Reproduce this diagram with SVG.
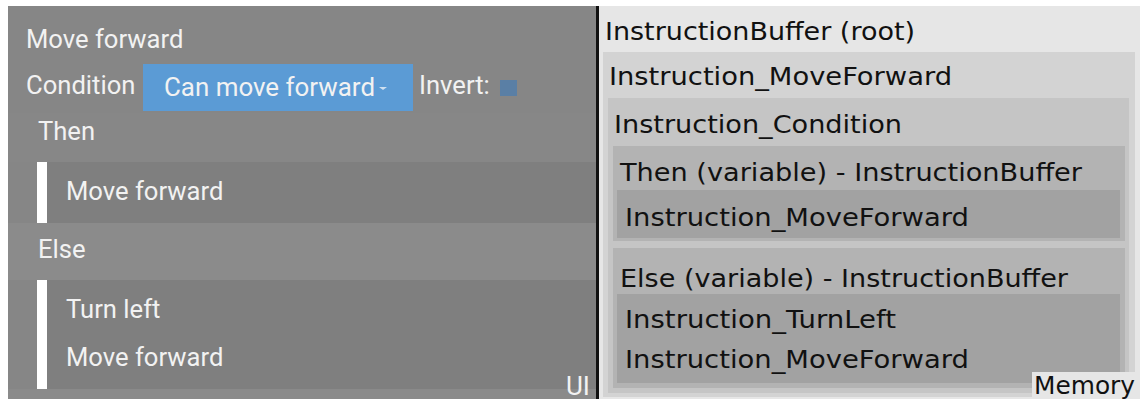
<svg xmlns="http://www.w3.org/2000/svg" width="1140" height="399" viewBox="0 0 1140 399">
<style>
.ui{font-family:Roboto,"Liberation Sans",sans-serif;font-size:25.6px;fill:#f2f2f2}
.mem{font-family:"DejaVu Sans","Noto Sans",sans-serif;font-size:24px;fill:#111}
.bar{fill:#ffffff}
</style>
<rect x="0" y="0" width="1140" height="399" fill="#ffffff"/>
<g id="ui-panel">
<rect x="8" y="6" width="588" height="393" fill="#868686"/>
<rect x="8" y="113" width="588" height="49" fill="#878787"/>
<rect x="8" y="223" width="588" height="57" fill="#8b8b8b"/>
<rect x="8" y="389" width="588" height="10" fill="#8a8a8a"/>
</g>
<g id="ui-move1"><text class="ui" x="26" y="48">Move forward</text></g>
<g id="ui-condition">
<text class="ui" x="26" y="94">Condition</text>
<rect x="143" y="64" width="270" height="47" fill="#5b9bd5"/>
<text class="ui" x="164" y="96" textLength="211" lengthAdjust="spacingAndGlyphs">Can move forward</text>
<path d="M379 87 L387 87 L383 90 Z" fill="#cfe0f0"/>
<text class="ui" x="419" y="94">Invert:</text>
<rect x="500" y="80" width="17" height="16" fill="#5a7fa5"/>
</g>
<g id="ui-then">
<text class="ui" x="38" y="140">Then</text>
<rect x="37" y="162" width="559" height="61" fill="#7f7f7f"/>
<rect class="bar" x="37" y="162" width="10" height="61"/>
<text class="ui" x="66" y="200">Move forward</text>
</g>
<g id="ui-else">
<text class="ui" x="38" y="258">Else</text>
<rect x="37" y="280" width="559" height="109" fill="#7f7f7f"/>
<rect class="bar" x="37" y="280" width="10" height="109"/>
<text class="ui" x="66" y="318">Turn left</text>
<text class="ui" x="66" y="366">Move forward</text>
</g>
<g id="ui-label"><text class="ui" x="566" y="395" style="font-size:26px">UI</text></g>
<g id="divider"><rect x="596" y="6" width="3" height="393" fill="#111111"/></g>
<g id="mem-root">
<rect x="599" y="6" width="541" height="393" fill="#e6e6e6"/>
<text class="mem" x="605" y="40" textLength="310" lengthAdjust="spacingAndGlyphs">InstructionBuffer (root)</text>
</g>
<g id="mem-moveforward">
<rect x="603" y="52" width="532" height="345" fill="#d3d3d3"/>
<text class="mem" x="609" y="85" textLength="343" lengthAdjust="spacingAndGlyphs">Instruction_MoveForward</text>
</g>
<g id="mem-condition">
<rect x="608" y="98" width="521" height="295" fill="#c5c5c5"/>
<text class="mem" x="614" y="133" textLength="288" lengthAdjust="spacingAndGlyphs">Instruction_Condition</text>
</g>
<g id="mem-then">
<rect x="613" y="146" width="512" height="95" fill="#b3b3b3"/>
<text class="mem" x="620" y="181" textLength="462" lengthAdjust="spacingAndGlyphs">Then (variable) - InstructionBuffer</text>
<rect x="617" y="190" width="503" height="48" fill="#a2a2a2"/>
<text class="mem" x="625" y="226" textLength="344" lengthAdjust="spacingAndGlyphs">Instruction_MoveForward</text>
</g>
<g id="mem-else">
<rect x="613" y="248" width="512" height="140" fill="#b3b3b3"/>
<text class="mem" x="620" y="287" textLength="448" lengthAdjust="spacingAndGlyphs">Else (variable) - InstructionBuffer</text>
<rect x="617" y="294" width="503" height="89" fill="#a2a2a2"/>
<text class="mem" x="625" y="328" textLength="271" lengthAdjust="spacingAndGlyphs">Instruction_TurnLeft</text>
<text class="mem" x="625" y="368" textLength="344" lengthAdjust="spacingAndGlyphs">Instruction_MoveForward</text>
</g>
<g id="mem-label">
<rect x="1032" y="372" width="108" height="27" fill="#e6e6e6"/>
<text class="mem" x="1034" y="394" textLength="101" lengthAdjust="spacingAndGlyphs">Memory</text>
</g>
</svg>
